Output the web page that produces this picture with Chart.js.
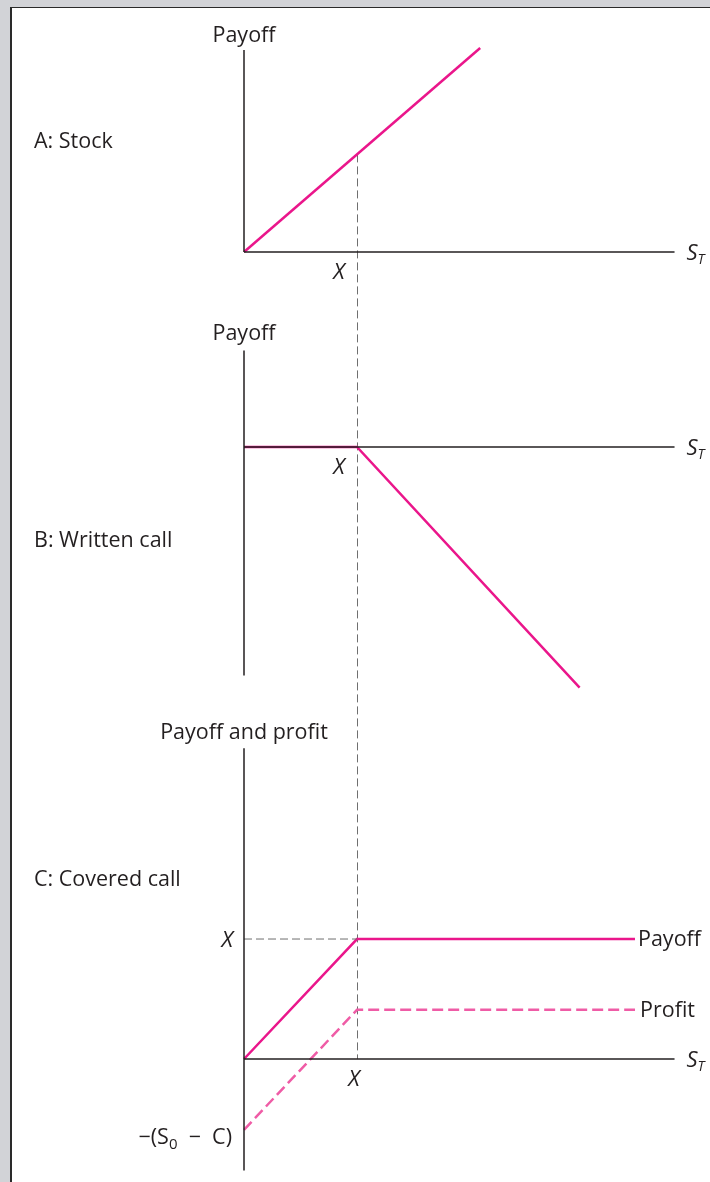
<!DOCTYPE html>
<html>
<head>
<meta charset="utf-8">
<script src="https://cdn.jsdelivr.net/npm/chart.js@4.4.1/dist/chart.umd.min.js"></script>
<style>
  html, body { margin: 0; padding: 0; }
  body { width: 710px; height: 1182px; background: #d2d3d7; overflow: hidden; position: relative; }
  #frame {
    position: absolute; left: 10px; top: 7px; right: 0; bottom: 0;
    background: #fff; border-left: 2px solid #2a2a2a; border-top: 1px solid #2a2a2a;
  }
  canvas { display: block; }
</style>
</head>
<body>
<div id="frame"><canvas id="payoffs" width="698" height="1174"></canvas></div>
<script>
// strike price, and where the S_T axes stop
const strike = 1;
const axisEnd = 3.81;

// A: stock
const stockPrice = [0, 2.09];
const stockPayoff = [0, 2.09];
const stockAxis = [0, 2.07];

// B: written call
const callPrice = [0, 1, 2.97];
const callPayoff = [0, 0, -1.97];
const callAxis = [0.79, -1.87];

// C: covered call
const coveredPrice = [0, 1, 3.46];
const coveredPayoff = [0, 1, 1];
const coveredProfit = [-0.59, 0.41, 0.41];
const coveredAxis = [2.59, -0.93];

const PINK = "#ea168b";
const PINK_LIGHT = "#ef5ca6";
const INK = "#231f20";
const GUIDE = "#6f6f6f";
const FONT = "'Open Sans', 'Noto Sans', sans-serif";
const SIZE = 21.5;

function toPoints(xs, ys) {
  return xs.map((x, i) => ({ x: x, y: ys[i] }));
}

function line(xs, ys, axis, color, width, dash) {
  return {
    data: toPoints(xs, ys),
    yAxisID: axis,
    showLine: true,
    pointRadius: 0,
    borderColor: color,
    borderWidth: width,
    borderDash: dash || [],
    clip: false,
    tension: 0,
  };
}

function axes(yRange, axis) {
  return [
    line([0, 0], yRange, axis, INK, 1.5),
    line([0, axisEnd], [0, 0], axis, INK, 1.5),
  ];
}

function text(ctx, str, x, y, size, align, italic) {
  ctx.font = (italic ? "italic " : "") + size + "px " + FONT;
  ctx.textAlign = align;
  ctx.textBaseline = "alphabetic";
  ctx.fillText(str, x, y);
}

function stLabel(ctx, x, y) {
  text(ctx, "S", x, y + 8, 22, "left", true);
  text(ctx, "T", x + 11, y + 12, 14, "left", true);
}

const figureText = {
  id: "figureText",
  beforeDatasetsDraw(chart) {
    const { ctx, scales } = chart;
    const x = Math.round(scales.x.getPixelForValue(strike)) + 0.5;
    ctx.save();
    ctx.strokeStyle = GUIDE;
    ctx.lineWidth = 1;
    ctx.setLineDash([8, 4]);
    ctx.beginPath();
    ctx.moveTo(x, scales.yA.getPixelForValue(strike));
    ctx.lineTo(x, scales.yC.getPixelForValue(0));
    ctx.stroke();
    ctx.restore();
  },
  afterDraw(chart) {
    const { ctx, scales } = chart;
    const { x, yA, yB, yC } = scales;
    const x0 = x.getPixelForValue(0);
    const xk = x.getPixelForValue(strike);
    const xEnd = x.getPixelForValue(axisEnd);
    ctx.save();
    ctx.fillStyle = INK;

    // panel A
    text(ctx, "Payoff", x0, yA.getPixelForValue(stockAxis[1]) - 8, SIZE, "center");
    text(ctx, "A: Stock", 22, yA.getPixelForValue(1.07), SIZE, "left");
    text(ctx, "X", xk - 18, yA.getPixelForValue(0) + 27, 22, "center", true);
    stLabel(ctx, xEnd + 12, yA.getPixelForValue(0));

    // panel B
    text(ctx, "Payoff", x0, yB.getPixelForValue(callAxis[0]) - 11, SIZE, "center");
    text(ctx, "B: Written call", 22, yB.getPixelForValue(-0.82), SIZE, "left");
    text(ctx, "X", xk - 18, yB.getPixelForValue(0) + 27, 22, "center", true);
    stLabel(ctx, xEnd + 12, yB.getPixelForValue(0));

    // panel C
    text(ctx, "Payoff and profit", x0, yC.getPixelForValue(coveredAxis[0]) - 9, SIZE, "center");
    text(ctx, "C: Covered call", 22, yC.getPixelForValue(1.44), SIZE, "left");
    text(ctx, "X", x0 - 11, yC.getPixelForValue(strike) + 8, 22, "right", true);
    text(ctx, "X", xk - 3, yC.getPixelForValue(0) + 27, 22, "center", true);
    stLabel(ctx, xEnd + 12, yC.getPixelForValue(0));
    const xLast = x.getPixelForValue(coveredPrice[coveredPrice.length - 1]);
    text(ctx, "Payoff", xLast + 3, yC.getPixelForValue(coveredPayoff[2]) + 7, SIZE, "left");
    text(ctx, "Profit", xLast + 5, yC.getPixelForValue(coveredProfit[2]) + 7, SIZE, "left");

    // −(S0 − C) label, built from pieces for the subscript
    const yp = yC.getPixelForValue(coveredProfit[0]) + 14;
    const right = x0 - 12;
    const head = "\u2212(S";
    const tail = "  \u2212  C)";
    ctx.font = SIZE + "px " + FONT;
    const headW = ctx.measureText(head).width;
    const tailW = ctx.measureText(tail).width;
    ctx.font = "15px " + FONT;
    const subW = ctx.measureText("0").width;
    let cx = right - tailW - subW - headW;
    text(ctx, head, cx, yp, SIZE, "left");
    cx += headW;
    text(ctx, "0", cx, yp + 5, 15, "left");
    cx += subW;
    text(ctx, tail, cx, yp, SIZE, "left");
    ctx.restore();
  },
};

new Chart(document.getElementById("payoffs"), {
  type: "scatter",
  data: {
    datasets: [
      ...axes(stockAxis, "yA"),
      ...axes(callAxis, "yB"),
      ...axes(coveredAxis, "yC"),
      line([0, strike], [strike, strike], "yC", GUIDE, 1, [8, 4]),
      line(stockPrice, stockPayoff, "yA", PINK, 2.5),
      line(callPrice, callPayoff, "yB", PINK, 2.5),
      line(coveredPrice, coveredProfit, "yC", PINK_LIGHT, 2.5, [11, 5]),
      line(coveredPrice, coveredPayoff, "yC", PINK, 2.5),
    ],
  },
  options: {
    responsive: false,
    animation: false,
    devicePixelRatio: 1,
    layout: { padding: { left: 232, right: 14, top: 0, bottom: 0 } },
    plugins: { legend: { display: false }, tooltip: { enabled: false } },
    scales: {
      x: { type: "linear", min: 0, max: 4, display: false },
      yA: { type: "linear", position: "left", stack: "panels", stackWeight: 292.8, weight: 3, min: -0.5, max: 2.5, display: false },
      yB: { type: "linear", position: "left", stack: "panels", stackWeight: 417.2, weight: 2, min: -2.219, max: 1.197, display: false },
      yC: { type: "linear", position: "left", stack: "panels", stackWeight: 464, weight: 1, min: -1.025, max: 2.842, display: false },
    },
  },
  plugins: [figureText],
});
</script>
</body>
</html>
